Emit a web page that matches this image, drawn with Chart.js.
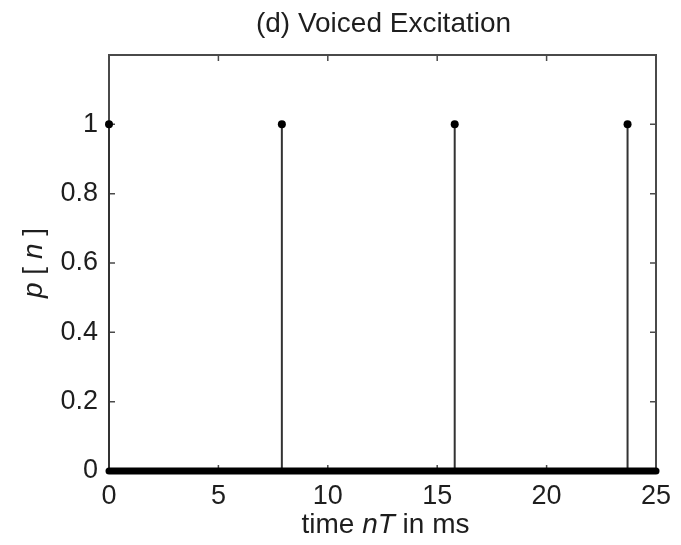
<!DOCTYPE html>
<html>
<head>
<meta charset="utf-8">
<script src="https://cdn.jsdelivr.net/npm/chart.js@4.4.1/dist/chart.umd.min.js"></script>
<style>
  html, body { margin: 0; padding: 0; background: #fff; }
  #wrap { width: 681px; height: 545px; }
</style>
</head>
<body>
<div id="wrap"><canvas id="excitation"></canvas></div>
<script>
// voiced excitation: unit pulses every pitch period (times in ms)
const pulseTimes = [0, 7.9, 15.8, 23.7];
const pulseValues = [1, 1, 1, 1];
// zero-valued samples in between, drawn as one thick run on the axis
const zeroRunTimes = [0, 25];
const zeroRunValues = [0, 0];
const xTicks = [0, 5, 10, 15, 20, 25];
const yTicks = [0, 0.2, 0.4, 0.6, 0.8, 1];

const FONT = "'Liberation Sans', Arial, sans-serif";
const INK = '#1e1e1e';
const FRAME = '#4a4a4a';

// draw a line of text made of normal / italic pieces, centred on cx
function drawRich(ctx, parts, cx, baseY, size) {
    const fontFor = p => (p.italic ? 'italic ' : '') + size + 'px ' + FONT;
    let total = 0;
    parts.forEach(p => { ctx.font = fontFor(p); total += ctx.measureText(p.text).width; });
    let xPos = cx - total / 2;
    parts.forEach(p => {
        ctx.font = fontFor(p);
        ctx.fillText(p.text, xPos, baseY);
        xPos += ctx.measureText(p.text).width;
    });
}

const framePlugin = {
    id: 'frame',
    beforeDatasetsDraw(chart) {
        const { ctx, chartArea: a, scales: { x, y } } = chart;
        ctx.save();
        ctx.strokeStyle = FRAME;
        ctx.lineWidth = 2;
        ctx.strokeRect(a.left, a.top, a.right - a.left, a.bottom - a.top);

        // inward tick marks on all four sides
        ctx.lineWidth = 1.5;
        ctx.beginPath();
        xTicks.forEach(v => {
            const px = x.getPixelForValue(v);
            ctx.moveTo(px, a.bottom); ctx.lineTo(px, a.bottom - 6);
            ctx.moveTo(px, a.top); ctx.lineTo(px, a.top + 6);
        });
        yTicks.forEach(v => {
            const py = y.getPixelForValue(v);
            ctx.moveTo(a.left, py); ctx.lineTo(a.left + 6, py);
            ctx.moveTo(a.right, py); ctx.lineTo(a.right - 6, py);
        });
        ctx.stroke();
        ctx.restore();
    },
    afterDraw(chart) {
        const { ctx, chartArea: a } = chart;
        const cx = (a.left + a.right) / 2;
        const cy = (a.top + a.bottom) / 2;
        ctx.save();
        ctx.fillStyle = INK;
        ctx.textBaseline = 'alphabetic';
        ctx.textAlign = 'left';

        drawRich(ctx, [{ text: '(d) Voiced Excitation' }], cx + 1, 32, 28);

        drawRich(ctx, [
            { text: 'time ' },
            { text: 'nT', italic: true },
            { text: ' in ms' }
        ], cx + 3, 533, 28);

        ctx.translate(42, cy);
        ctx.rotate(-Math.PI / 2);
        drawRich(ctx, [
            { text: 'p', italic: true },
            { text: ' [ ' },
            { text: 'n', italic: true },
            { text: ' ]' }
        ], 0, 0, 28);
        ctx.restore();
    }
};

const stemSets = pulseTimes.map((t, i) => ({
    data: [{ x: t, y: 0 }, { x: t, y: pulseValues[i] }],
    showLine: true,
    borderColor: '#333',
    borderWidth: 2,
    pointRadius: [0, 4],
    pointBackgroundColor: '#000',
    pointBorderWidth: 0,
    clip: false
}));

const zeroRunSet = {
    data: zeroRunTimes.map((t, i) => ({ x: t, y: zeroRunValues[i] })),
    showLine: true,
    borderColor: '#000',
    borderWidth: 7,
    borderCapStyle: 'round',
    pointRadius: 0,
    clip: false
};

new Chart(document.getElementById('excitation'), {
    type: 'scatter',
    data: { datasets: [zeroRunSet, ...stemSets] },
    options: {
        responsive: true,
        maintainAspectRatio: false,
        animation: false,
        layout: { padding: { top: 55, right: 25, left: 0, bottom: 0 } },
        plugins: {
            legend: { display: false },
            tooltip: { enabled: false }
        },
        scales: {
            x: {
                type: 'linear',
                min: 0,
                max: 25,
                afterBuildTicks: s => { s.ticks = xTicks.map(v => ({ value: v })); },
                afterFit: s => { s.height = 74; },
                grid: { display: false, drawTicks: false },
                border: { display: false },
                ticks: {
                    color: INK,
                    padding: 9,
                    maxRotation: 0,
                    font: { family: FONT, size: 27 },
                    callback: v => String(v)
                }
            },
            y: {
                type: 'linear',
                min: 0,
                max: 1.2,
                afterBuildTicks: s => { s.ticks = yTicks.map(v => ({ value: v })); },
                afterFit: s => { s.width = 109; },
                grid: { display: false, drawTicks: false },
                border: { display: false },
                ticks: {
                    color: INK,
                    padding: 11,
                    font: { family: FONT, size: 27 },
                    callback: v => String(v)
                }
            }
        }
    },
    plugins: [framePlugin]
});
</script>
</body>
</html>
